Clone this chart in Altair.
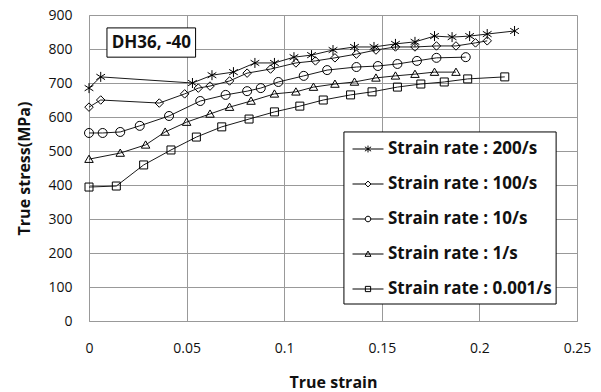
import altair as alt
import pandas as pd

series_names = [
    "Strain rate : 200/s",
    "Strain rate : 100/s",
    "Strain rate : 10/s",
    "Strain rate : 1/s",
    "Strain rate : 0.001/s",
]

strain_200 = [0.0, 0.006, 0.053, 0.063, 0.074, 0.085, 0.095, 0.105, 0.114, 0.125, 0.136,
              0.146, 0.157, 0.167, 0.177, 0.186, 0.195, 0.204, 0.218]
stress_200 = [685, 718, 700, 723, 732, 759, 759, 776, 782, 797, 806,
              806, 815, 821, 838, 835, 838, 844, 853]

strain_100 = [0.0, 0.006, 0.036, 0.049, 0.056, 0.062, 0.072, 0.081, 0.093, 0.106, 0.116,
              0.126, 0.137, 0.147, 0.157, 0.167, 0.178, 0.188, 0.198, 0.204]
stress_100 = [629, 650, 641, 668, 685, 691, 706, 729, 741, 759, 765,
              774, 785, 797, 806, 806, 809, 809, 818, 824]

strain_10 = [0.0, 0.007, 0.016, 0.026, 0.041, 0.057, 0.070, 0.081, 0.088, 0.097, 0.110,
             0.122, 0.137, 0.148, 0.158, 0.168, 0.178, 0.193]
stress_10 = [553, 553, 556, 574, 603, 647, 665, 676, 685, 703, 721,
             738, 747, 750, 756, 765, 774, 776]

strain_1 = [0.0, 0.016, 0.029, 0.039, 0.050, 0.062, 0.072, 0.083, 0.095, 0.106, 0.115,
            0.126, 0.136, 0.147, 0.157, 0.167, 0.177, 0.188]
stress_1 = [476, 494, 518, 556, 585, 609, 629, 647, 668, 674, 688,
            697, 703, 715, 721, 726, 732, 732]

strain_0001 = [0.0, 0.014, 0.028, 0.042, 0.055, 0.068, 0.082, 0.095, 0.108, 0.120,
               0.134, 0.145, 0.158, 0.170, 0.182, 0.194, 0.213]
stress_0001 = [394, 397, 459, 503, 541, 571, 594, 615, 632, 650,
               665, 674, 688, 697, 703, 712, 718]

x_ticks = [0, 0.05, 0.1, 0.15, 0.2, 0.25]
y_ticks = [0, 100, 200, 300, 400, 500, 600, 700, 800, 900]

annotation = "DH36, -40"

all_series = [
    (series_names[0], strain_200, stress_200),
    (series_names[1], strain_100, stress_100),
    (series_names[2], strain_10, stress_10),
    (series_names[3], strain_1, stress_1),
    (series_names[4], strain_0001, stress_0001),
]
rows = []
for name, xs, ys in all_series:
    for i, (xv, yv) in enumerate(zip(xs, ys)):
        rows.append({"series": name, "strain": xv, "stress": yv, "order": i})
df = pd.DataFrame(rows)

FONT = "Open Sans"

# marker paths (plot)
plot_shapes = [
    "M0,-1V1M-0.87,-0.55L0.87,0.55M-0.87,0.55L0.87,-0.55",
    "M-0.85,0L0,-0.85L0.85,0L0,0.85Z",
    "M-0.9,0A0.9,0.9 0 1 1 0.9,0A0.9,0.9 0 1 1 -0.9,0Z",
    "M-0.85,0.65L0,-0.8L0.85,0.65Z",
    "M-0.8,-0.8H0.8V0.8H-0.8Z",
]
# legend symbols: line with marker
legend_shapes = [
    "M-1,0H1M0,-0.22V0.22M-0.2,-0.14L0.2,0.14M-0.2,0.14L0.2,-0.14",
    "M-1,0H-0.19M0.19,0H1M-0.19,0L0,-0.19L0.19,0L0,0.19Z",
    "M-1,0H-0.18M0.18,0H1M-0.18,0A0.18,0.18 0 1 1 0.18,0A0.18,0.18 0 1 1 -0.18,0Z",
    "M-1,0H1M-0.19,0.15L0,-0.19L0.19,0.15Z",
    "M-1,0H1M-0.17,-0.17H0.17V0.17H-0.17Z",
]

x_scale = alt.Scale(domain=[0, 0.25], nice=False, zero=False)
y_scale = alt.Scale(domain=[0, 900], nice=False)
x_axis = alt.Axis(values=x_ticks, format="~g", title="True strain",
                  labelPadding=20, titlePadding=19, labelOverlap=False,
                  labelFlush=False)
y_axis = alt.Axis(values=y_ticks, title="True stress(MPa)",
                  labelPadding=17, titlePadding=15, labelOverlap=False,
                  labelFlush=False)


def X(field):
    return alt.X(field, type="quantitative", scale=x_scale, axis=x_axis)


def Y(field):
    return alt.Y(field, type="quantitative", scale=y_scale, axis=y_axis)


lines = alt.Chart(df).mark_line(color="#1a1a1a", strokeWidth=1).encode(
    x=X("strain"), y=Y("stress"), detail="series:N", order="order:Q"
)

points = alt.Chart(df).mark_point(
    filled=False, color="#000", size=100, strokeWidth=1, opacity=1
).encode(
    x=X("strain"), y=Y("stress"),
    shape=alt.Shape("series:N", scale=alt.Scale(domain=series_names, range=plot_shapes),
                    legend=None),
)

legend_layer = alt.Chart(df).transform_filter("false").mark_point(
    filled=False, color="#000", strokeWidth=1, opacity=1
).encode(
    x=X("strain"), y=Y("stress"),
    shape=alt.Shape(
        "series:N",
        scale=alt.Scale(domain=series_names, range=legend_shapes),
        legend=alt.Legend(
            title=None, orient="none", legendX=263, legendY=118,
            symbolSize=961, symbolStrokeWidth=1, symbolStrokeColor="#000",
            symbolFillColor="transparent",
            labelFont=FONT, labelFontSize=17, labelFontWeight="bold", labelColor="#111",
            labelOffset=4, rowPadding=11, padding=0,
            labelLimit=300,
        ),
    ),
)

box_df = pd.DataFrame({"x1": [0.0092], "x2": [0.0546], "y1": [776], "y2": [862],
                       "xc": [0.0319], "yc": [819], "label": [annotation]})
legend_box_df = pd.DataFrame({"x1": [0.1306], "x2": [0.2393], "y1": [50], "y2": [556]})

box = alt.Chart(box_df).mark_rect(fill="white", stroke="#000", strokeWidth=1).encode(
    x=X("x1"), x2="x2:Q", y=Y("y1"), y2="y2:Q"
)
box_text = alt.Chart(box_df).mark_text(
    font=FONT, fontSize=17, fontWeight="bold", color="#111"
).encode(x=X("xc"), y=Y("yc"), text="label:N")

legend_box = alt.Chart(legend_box_df).mark_rect(
    fill="white", stroke="#000", strokeWidth=1
).encode(x=X("x1"), x2="x2:Q", y=Y("y1"), y2="y2:Q")

chart = alt.layer(lines, points, box, box_text, legend_box, legend_layer).resolve_scale(
    shape="independent"
).properties(
    width=488, height=306,
    autosize=alt.AutoSizeParams(type="none"),
    padding={"left": 89, "top": 15, "right": 24, "bottom": 71},
).configure_view(stroke=None).configure_axis(
    grid=True, gridColor="#999", gridWidth=1, domainColor="#999", domainWidth=1,
    ticks=False, labelFont=FONT, labelFontSize=14, labelColor="#111",
    titleFont=FONT, titleFontSize=16, titleFontWeight="bold", titleColor="#111",
)

chart.save("out.html", embed_options={"renderer": "svg", "actions": False})
